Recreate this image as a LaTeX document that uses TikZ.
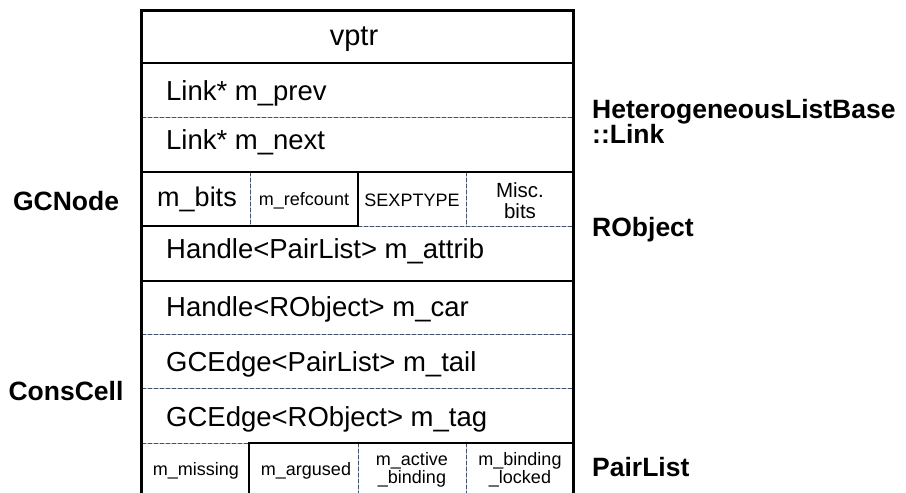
\documentclass[tikz,border=0pt]{standalone}
\usepackage{fontspec}
\setmainfont{Liberation Sans}
\definecolor{dashgray}{RGB}{70,80,100}
\definecolor{dashblue}{RGB}{175,195,225}
\begin{document}
\begin{tikzpicture}[x=1pt,y=-1pt,
  frame/.style={line width=2.6pt, black, line cap=rect},
  sep/.style={preaction={draw=dashblue, solid, line width=1pt},
              draw=dashgray, line width=1pt, dash pattern=on 4pt off 2pt},
  field/.style={anchor=base west, inner sep=0pt, font=\fontsize{27.5}{27.5}\selectfont},
  cell/.style={anchor=base, inner sep=0pt, font=\fontsize{18}{18}\selectfont},
  cls/.style={anchor=base west, inner sep=0pt, font=\bfseries\fontsize{26.5}{26.5}\selectfont},
  clsc/.style={anchor=base, inner sep=0pt, font=\bfseries\fontsize{26.5}{26.5}\selectfont}]
\useasboundingbox (0,0) rectangle (906,493);

% dashed separators inside the object layout
\draw[sep] (141.5,117) -- (573.5,117);
\draw[sep] (358,226) -- (573.5,226);
\draw[sep] (141.5,334) -- (573.5,334);
\draw[sep] (141.5,388) -- (573.5,388);
\draw[sep] (141.5,443) -- (249,443);
\draw[sep] (250,172) -- (250,226);
\draw[sep] (466,172) -- (466,226);
\draw[sep] (358,443) -- (358,496);
\draw[sep] (466,443) -- (466,496);

% solid borders of the class regions
\draw[frame] (141.5,496) -- (141.5,10.5) -- (573.5,10.5) -- (573.5,496);
\draw[frame] (141.5,63) -- (573.5,63);
\draw[frame] (141.5,172) -- (573.5,172);
\draw[frame] (141.5,226) -- (358,226) -- (358,172);
\draw[frame] (141.5,281) -- (573.5,281);
\draw[frame] (249,496) -- (249,443) -- (573.5,443);

% fields
\node[anchor=base, inner sep=0pt, font=\fontsize{29}{29}\selectfont] (vptr) at (354,45) {vptr};
\node[field] (prev) at (166,100.5) {Link* m\_prev};
\node[field] (next) at (166,149.5) {Link* m\_next};
\node[anchor=base, inner sep=0pt, font=\fontsize{27}{27}\selectfont] (bits) at (197,206.5) {m\_bits};
\node[cell] (refcount) at (304,205.5) {m\_refcount};
\node[cell] (sexptype) at (412,206) {SEXPTYPE};
\node[anchor=base, inner sep=0pt, font=\fontsize{20.5}{20.5}\selectfont] (misca) at (520,197.5) {Misc.};
\node[anchor=base, inner sep=0pt, font=\fontsize{20.5}{20.5}\selectfont] (miscb) at (520,218.5) {bits};
\node[field] (attrib) at (166,258.5) {Handle<PairList> m\_attrib};
\node[field] (car) at (166,316.5) {Handle<RObject> m\_car};
\node[field] (tail) at (166,371.5) {GCEdge<PairList> m\_tail};
\node[field] (tag) at (166,426.5) {GCEdge<RObject> m\_tag};
\node[cell] (missing) at (196,475) {m\_missing};
\node[cell] (argused) at (306,475) {m\_argused};
\node[cell] (activea) at (412,465) {m\_active};
\node[cell] (activeb) at (412,483) {\_binding};
\node[cell] (lockeda) at (520,465) {m\_binding};
\node[cell] (lockedb) at (520,483) {\_locked};

% class names
\node[clsc] (gcnode) at (66,210) {GCNode};
\node[clsc] (conscell) at (66,400) {ConsCell};
\node[cls] (hlba) at (592,118.5) {HeterogeneousListBase};
\node[cls] (hlbb) at (592,143.5) {::Link};
\node[cls] (robject) at (592,236.5) {RObject};
\node[cls] (pairlist) at (592,476.5) {PairList};
\end{tikzpicture}
\end{document}
